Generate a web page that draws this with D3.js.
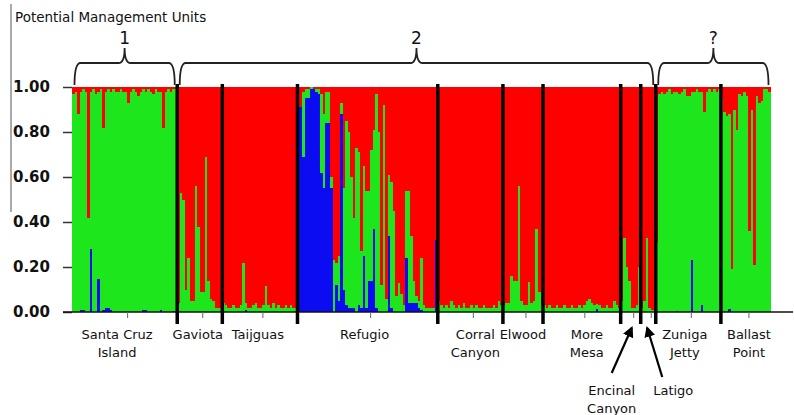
<!DOCTYPE html>
<html>
<head>
<meta charset="utf-8">
<script src="https://cdn.jsdelivr.net/npm/d3@7"></script>
<style>
  body { margin: 0; background: #fff; }
  svg { display: block; }
  text { font-family: "Comic Sans MS", "DejaVu Sans", sans-serif; fill: #111; }
</style>
</head>
<body>
<svg></svg>
<script>
// q-values per individual: blue = bottom cluster, red = top cluster, green fills the rest
const santaCruzRed = [0.03, 0.02, 0.12, 0.02, 0.01, 0.02, 0.58, 0.02, 0.01, 0.03, 0.02, 0.01, 0.18, 0.02, 0.01, 0.02, 0.01, 0.02, 0.02, 0.01, 0.02, 0.02, 0.07, 0.02, 0.01, 0.02, 0.04, 0.02, 0.01, 0.02, 0.01, 0.02, 0.03, 0.01, 0.02, 0.02, 0.18, 0.02, 0.01, 0.02, 0.01, 0.01];
const santaCruzBlue = [0, 0, 0, 0.01, 0.01, 0, 0, 0.28, 0, 0, 0.145, 0, 0.01, 0.02, 0.02, 0.01, 0, 0, 0, 0, 0, 0, 0, 0, 0, 0, 0, 0, 0.01, 0.01, 0, 0, 0, 0, 0, 0.01, 0, 0, 0, 0, 0.005, 0];
const gaviotaRed = [0.96, 0.47, 0.50, 0.90, 0.76, 0.95, 0.95, 0.44, 0.62, 0.91, 0.91, 0.31, 0.86, 0.94, 0.95, 0.98, 0.98, 0.98];
const gaviotaBlue = [];
const taijguasRed = [0.96, 0.97, 0.98, 0.98, 0.97, 0.98, 0.98, 0.97, 0.78, 0.96, 0.98, 0.98, 0.97, 0.96, 0.98, 0.98, 0.97, 0.885, 0.97, 0.98, 0.96, 0.98, 0.97, 0.98, 0.98, 0.97, 0.98, 0.97, 0.98, 0.98];
const taijguasBlue = [0, 0, 0, 0, 0, 0, 0, 0, 0, 0.01];
const refugioRed = [0.09, 0.09, 0.02, 0.01, 0.01, 0, 0.01, 0.01, 0.01, 0.03, 0.12, 0.02, 0.02, 0.40, 0.77, 0.78, 0.75, 0.07, 0.45, 0.15, 0.20, 0.40, 0.58, 0.27, 0.29, 0.73, 0.35, 0.46, 0.46, 0.28, 0.19, 0.03, 0.20, 0.88, 0.08, 0.94, 0.39, 0.42, 0.55, 0.93, 0.87, 0.92, 0.97, 0.46, 0.46, 0.66, 0.86, 0.93, 0.95, 0.76, 0.97, 0.98, 0.98, 0.98, 0.98, 0.68];
const refugioBlue = [0.91, 0.91, 0.69, 0.95, 0.95, 0.99, 0.99, 0.98, 0.97, 0.62, 0.55, 0.84, 0.84, 0.55, 0, 0.12, 0.05, 0.88, 0.10, 0.03, 0.02, 0.02, 0.02, 0, 0.03, 0.02, 0.25, 0.02, 0.14, 0.14, 0.37, 0.02, 0, 0, 0, 0, 0.34, 0.02, 0, 0, 0, 0, 0, 0.24, 0.04, 0.04, 0.04, 0.04, 0.02, 0.01, 0, 0, 0, 0, 0, 0.32];
const corralRed = [0.95, 0.97, 0.98, 0.97, 0.98, 0.95, 0.97, 0.98, 0.97, 0.98, 0.96, 0.98, 0.98, 0.97, 0.98, 0.97, 0.98, 0.98, 0.97, 0.98, 0.98, 0.98, 0.97, 0.98, 0.95, 0.97];
const corralBlue = [];
const elwoodRed = [0.97, 0.96, 0.96, 0.84, 0.86, 0.86, 0.44, 0.95, 0.97, 0.97, 0.865, 0.96, 0.95, 0.63, 0.91, 0.97];
const elwoodBlue = [];
const moreMesaRed = [0.97, 0.98, 0.97, 0.98, 0.98, 0.97, 0.98, 0.98, 0.97, 0.98, 0.98, 0.97, 0.98, 0.98, 0.97, 0.98, 0.97, 0.95, 0.94, 0.96, 0.97, 0.965, 0.97, 0.98, 0.98, 0.97, 0.98, 0.98, 0.95, 0.97, 0.98];
const moreMesaBlue = [0, 0, 0, 0, 0, 0, 0, 0, 0, 0, 0, 0, 0, 0, 0, 0, 0, 0, 0, 0, 0, 0.015];
const encinalRed = [0.95, 0.67, 0.80, 0.86, 0.98, 0.98, 0.97, 0.80];
const encinalBlue = [];
const latigoRed = [0.98, 0.95, 0.67, 0.98, 0.99, 0.99];
const latigoBlue = [];
const zunigaRed = [0.69, 0.03, 0.02, 0.03, 0.02, 0.01, 0.03, 0.02, 0.02, 0.03, 0.02, 0.01, 0.04, 0.04, 0.02, 0.02, 0.01, 0.02, 0.02, 0.11, 0.02, 0.01, 0.02, 0.01, 0.02, 0.01];
const zunigaBlue = [0, 0, 0, 0, 0, 0, 0, 0, 0.005, 0, 0, 0, 0, 0, 0.23, 0, 0, 0, 0.03];
const ballastRed = [0.05, 0.11, 0.13, 0.12, 0.81, 0.10, 0.19, 0.03, 0.04, 0.02, 0.04, 0.64, 0.10, 0.79, 0.04, 0.07, 0.06, 0.01, 0.01, 0.02];
const ballastBlue = [0, 0, 0, 0.015];

const popLabels = [["Santa Cruz", "Island"], ["Gaviota"], ["Taijguas"], ["Refugio"], ["Corral", "Canyon"], ["Elwood"], ["More", "Mesa"], ["Encinal", "Canyon"], ["Latigo"], ["Zuniga", "Jetty"], ["Ballast", "Point"]];
const popRed = [santaCruzRed, gaviotaRed, taijguasRed, refugioRed, corralRed, elwoodRed, moreMesaRed, encinalRed, latigoRed, zunigaRed, ballastRed];
const popBlue = [santaCruzBlue, gaviotaBlue, taijguasBlue, refugioBlue, corralBlue, elwoodBlue, moreMesaBlue, encinalBlue, latigoBlue, zunigaBlue, ballastBlue];

const unitNames = ["1", "2", "?"];
const unitFirstPop = [0, 1, 9];
const unitLastPop = [0, 8, 10];
const yTicks = [0, 0.2, 0.4, 0.6, 0.8, 1.0];

const width = 794, height = 415;
const colors = {blue: "#0c0cf2", green: "#1de61d", red: "#ff0000"};
const labelNudge = [-7.5, -2, -2, -3, 5, 0, 5, -19, 25, -3.5, 3];
const callouts = [7, 8];

const svg = d3.select("svg").attr("width", width).attr("height", height);

let inds = [];
let starts = [];
popRed.forEach((reds, p) => {
    starts.push(inds.length);
    reds.forEach((r, i) => {
        const b = popBlue[p][i] || 0;
        inds.push({pop: p, blue: b, red: r, green: Math.max(0, 1 - b - r)});
    });
});

const x = d3.scaleBand().domain(d3.range(inds.length)).range([72, 771]);
const y = d3.scaleLinear().domain([0, 1]).range([312, 87]);
const bw = x.bandwidth();
const popLeft = p => x(starts[p]);
const popRight = p => x(starts[p]) + popRed[p].length * bw;
const popMid = p => (popLeft(p) + popRight(p)) / 2;
// whole-pixel columns that tile without gaps or overlaps
const colX = i => Math.round(x(i));
const colW = i => Math.round(x(i) + bw) - Math.round(x(i));

// thin frame line at left and title
svg.append("line").attr("x1", 11).attr("x2", 11).attr("y1", 4).attr("y2", 212)
    .style("stroke", "#555").style("stroke-width", 1);
svg.append("text").attr("x", 15).attr("y", 22).style("font-size", "13.5px")
    .text("Potential Management Units");

// stacked bars, one column per individual
const series = d3.stack().keys(["blue", "green", "red"])(inds);
svg.append("g").attr("shape-rendering", "crispEdges").selectAll("g")
    .data(series)
    .join("g")
    .attr("fill", d => colors[d.key])
    .selectAll("rect")
    .data(d => d)
    .join("rect")
    .attr("x", (d, i) => colX(i))
    .attr("width", (d, i) => colW(i))
    .attr("y", d => y(Math.min(1, d[1])))
    .attr("height", d => Math.max(0, y(d[0]) - y(Math.min(1, d[1]))));

// y axis
const yAxis = svg.append("g").attr("transform", "translate(72,0)")
    .call(d3.axisLeft(y).tickValues(yTicks).tickSize(9).tickPadding(13).tickFormat(d3.format(".2f")));
yAxis.select(".domain").remove();
yAxis.selectAll("line").style("stroke", "#333").style("stroke-width", 1.5);
yAxis.selectAll("text")
    .style("font-family", "'DejaVu Sans', sans-serif")
    .style("font-weight", "bold").style("font-size", "15px").style("fill", "#111");

// x axis line and small ticks
svg.append("line").attr("x1", 63).attr("x2", 793).attr("y1", 312).attr("y2", 312)
    .style("stroke", "#111").style("stroke-width", 1.5);
svg.append("g").selectAll("line")
    .data(d3.range(popRed.length))
    .join("line")
    .attr("x1", p => popMid(p) + 3).attr("x2", p => popMid(p) + 3)
    .attr("y1", 312).attr("y2", 318)
    .style("stroke", "#666").style("stroke-width", 1);

// population separators
svg.append("g").selectAll("line")
    .data(d3.range(1, popRed.length))
    .join("line")
    .attr("x1", p => popLeft(p)).attr("x2", p => popLeft(p))
    .attr("y1", 84).attr("y2", 324)
    .style("stroke", "#000").style("stroke-width", 3.5);

// population labels
const labelG = svg.append("g").style("font-size", "13px").attr("text-anchor", "middle");
d3.range(popRed.length).forEach(p => {
    const isCall = callouts.includes(p);
    const lx = popMid(p) + labelNudge[p];
    const y0 = isCall ? 395 : 339;
    popLabels[p].forEach((line, k) => {
        labelG.append("text").attr("x", lx).attr("y", y0 + k * 18).text(line);
    });
});

// arrows for the small populations
svg.append("defs").append("marker")
    .attr("id", "head").attr("viewBox", "0 0 10 10")
    .attr("refX", 8).attr("refY", 5)
    .attr("markerWidth", 5).attr("markerHeight", 5)
    .attr("orient", "auto")
    .append("path").attr("d", "M0,0 L10,5 L0,10 z").attr("fill", "#000");
svg.append("line").attr("x1", popMid(7) - 19).attr("y1", 373).attr("x2", popMid(7) + 1).attr("y2", 328)
    .style("stroke", "#000").style("stroke-width", 2.2).attr("marker-end", "url(#head)");
svg.append("line").attr("x1", popMid(8) + 14).attr("y1", 377).attr("x2", popMid(8) - 1).attr("y2", 328)
    .style("stroke", "#000").style("stroke-width", 2.2).attr("marker-end", "url(#head)");

// management unit braces
function brace(x0, x1) {
    const mid = (x0 + x1) / 2, yb = 63, yEnd = 85, yTip = 48, r = 6;
    return `M${x0},${yEnd} Q${x0},${yb} ${x0 + r},${yb} L${mid - r},${yb} Q${mid},${yb} ${mid},${yTip}` +
        ` Q${mid},${yb} ${mid + r},${yb} L${x1 - r},${yb} Q${x1},${yb} ${x1},${yEnd}`;
}
unitNames.forEach((name, u) => {
    const x0 = popLeft(unitFirstPop[u]) + 2.5;
    const x1 = popRight(unitLastPop[u]) - 2.5;
    svg.append("path").attr("d", brace(x0, x1))
        .style("fill", "none").style("stroke", "#222").style("stroke-width", 1.8);
    svg.append("text").attr("x", (x0 + x1) / 2).attr("y", 44)
        .attr("text-anchor", "middle").style("font-size", "17px").text(name);
});
</script>
</body>
</html>
